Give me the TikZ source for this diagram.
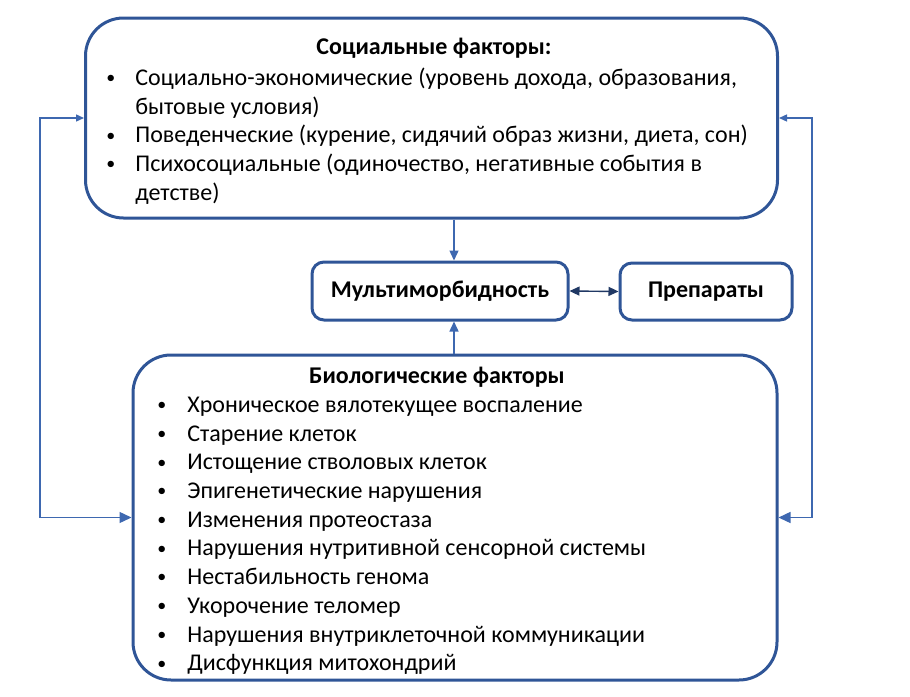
\documentclass[tikz,border=0pt]{standalone}
\usepackage{fontspec}
\setmainfont{Carlito}
\usepackage{array}
\usetikzlibrary{arrows.meta,positioning}
\definecolor{boxblue}{RGB}{47,85,151}
\definecolor{lineblue}{RGB}{62,104,176}
\definecolor{darkblue}{RGB}{32,56,100}
\tikzset{
  bigbox/.style={draw=boxblue, line width=1.5pt, rounded corners=19pt, fill=white},
  smallbox/.style={draw=boxblue, line width=1.5pt, rounded corners=6pt, fill=white,
    font=\bfseries\fontsize{12}{14}\selectfont},
  conn/.style={draw=lineblue, line width=0.7pt},
  txt/.style={inner sep=0pt, font=\fontsize{12}{14.35}\selectfont},
}
\newcommand{\bul}{\raisebox{0.15ex}{\scalebox{0.75}{\textbullet}}}
\begin{document}
\begin{tikzpicture}[x=0.5pt, y=-0.5pt]
\useasboundingbox (0,0) rectangle (910,696);

% Boxes
\node[bigbox, minimum width=346pt, minimum height=100pt] (soc) at (431.5,118) {};
\node[bigbox, minimum width=322pt, minimum height=162.5pt] (bio) at (455,517.5) {};
\node[smallbox, minimum width=128pt, minimum height=29pt] (mult) at (440,291) {Мультиморбидность};
\node[smallbox, minimum width=86pt, minimum height=28.5pt] (prep) at (706,291.5) {Препараты};

% Social factors
\node[txt, font=\bfseries\fontsize{12}{14}\selectfont] (soctitle) at (434,48) {Социальные факторы:};
\node[txt, anchor=north west] (soclist) at (106,65) {%
\begin{tabular}{@{}p{14.5pt}@{}l@{}}
\bul & Социально-экономические (уровень дохода, образования,\\
     & бытовые условия)\\
\bul & Поведенческие (курение, сидячий образ жизни, диета, сон)\\
\bul & Психосоциальные (одиночество, негативные события в\\
     & детстве)
\end{tabular}};

% Biological factors
\node[txt, font=\bfseries\fontsize{12}{14}\selectfont] (biotitle) at (437,377) {Биологические факторы};
\node[txt, anchor=north west] (biolist) at (157,392) {%
\begin{tabular}{@{}p{15pt}@{}l@{}}
\bul & Хроническое вялотекущее воспаление\\
\bul & Старение клеток\\
\bul & Истощение стволовых клеток\\
\bul & Эпигенетические нарушения\\
\bul & Изменения протеостаза\\
\bul & Нарушения нутритивной сенсорной системы\\
\bul & Нестабильность генома\\
\bul & Укорочение теломер\\
\bul & Нарушения внутриклеточной коммуникации\\
\bul & Дисфункция митохондрий
\end{tabular}};

% Connectors
\coordinate (lt) at (40,118);
\coordinate (lb) at (40,517.5);
\coordinate (rt) at (812,118);
\coordinate (rb) at (812,517.5);
\coordinate (ax) at (454,0);

\draw[conn, {Triangle[length=6pt,width=5.5pt]}-{Triangle[length=4pt,width=3.5pt]}]
  (bio.west) -- (lb) -- (lt) -- (soc.west);
\draw[conn, {Triangle[length=6pt,width=5.5pt]}-{Triangle[length=4pt,width=3.5pt]}]
  (bio.east) -- (rb) -- (rt) -- (soc.east);
\draw[conn, -{Triangle[length=5pt,width=4.5pt]}] (soc.south -| ax) -- (mult.north -| ax);
\draw[conn, -{Triangle[length=5pt,width=4.5pt]}] (bio.north -| ax) -- (mult.south -| ax);
\draw[conn, draw=darkblue, {Triangle[length=5pt,width=4.5pt]}-{Triangle[length=5pt,width=4.5pt]}]
  (mult.east) -- (prep.west);
\end{tikzpicture}
\end{document}
